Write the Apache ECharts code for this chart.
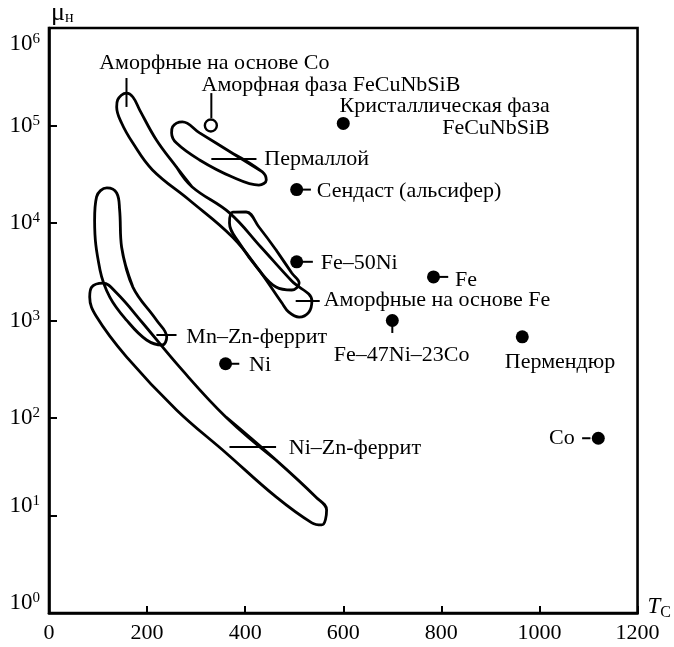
<!DOCTYPE html>
<html>
<head>
<meta charset="utf-8">
<script src="https://cdn.jsdelivr.net/npm/echarts@6/dist/echarts.min.js"></script>
<style>html,body{margin:0;padding:0;background:#fff;}#c{width:674px;height:647px;}</style>
</head>
<body>
<div id="c"></div>
<script>
// ---- Data (T_C in °C, initial permeability μ_н) ----
const xTicks = [0, 200, 400, 600, 800, 1000, 1200];
const yExponents = [0, 1, 2, 3, 4, 5, 6];

// closed outlines of material regions: [T_C, μ]
const regionAmorphCo = [[260,37500],[292,23400],[368,12700],[432,5670],[495,2540],[536,1590],[530,1220],[510,1085],[489,1220],[475,1510],[428,3300],[374,7180],[286,17200],[211,35000],[171,66000],[148,106000],[138,155000],[140,183000],[158,215000],[171,196000],[185,144000],[219,71000],[260,37500]];
const regionAmorphFe = [[463,5290],[495,3070],[510,2425],[495,2055],[463,2206],[428,3300],[388,6240],[368,10000],[375,12900],[402,12970],[428,9100],[463,5290]];
const regionPermalloy = [[374,52000],[435,33400],[443,27600],[428,24500],[374,29600],[307,44300],[260,66000],[250,84000],[252,97000],[272,109000],[307,84000],[374,52000]];
const regionMnZn = [[148,5670],[171,2200],[219,1010],[240,677],[231,561],[199,631],[158,1010],[124,1740],[104,3300],[93,10700],[97,18500],[118,22900],[138,20300],[144,13600],[148,5670]];
const regionNiZn = [[361,102],[463,37],[544,15.5],[566,11.4],[556,8],[536,8.4],[463,15.5],[361,43.8],[260,121],[158,423],[97,1090],[83,1740],[87,2200],[110,2420],[138,1910],[191,943],[266,334],[361,102]];

// filled points: names, T_C, μ
const pointNames = ['Кристаллическая фаза FeCuNbSiB','Сендаст','Fe–50Ni','Fe','Fe–47Ni–23Co','Пермендюр','Ni','Co'];
const pointT  = [600, 505, 505, 784, 700, 965, 360, 1120];
const pointMu = [105000, 22000, 4000, 2800, 1000, 680, 360, 62];
// open point
const openT = [330];
const openMu = [100000];

// annotation texts and their anchors in data space
const annTexts = ['Аморфные на основе Co','Аморфная фаза FeCuNbSiB','Кристаллическая фаза','FeCuNbSiB','Пермаллой','Сендаст (альсифер)','Fe–50Ni','Fe','Аморфные на основе Fe','Fe–47Ni–23Co','Пермендюр','Mn–Zn-феррит','Ni','Ni–Zn-феррит','Co'];
const annT  = [337, 311, 1021, 1021, 439, 546, 554, 828, 560, 719, 1042, 280, 408, 489, 1072];
const annMu = [438000, 260000, 158000, 94000, 45300, 21300, 3890, 2600, 1620, 443, 375, 677, 350, 49, 62];
const annAnchor = ['c','l','r','r','l','l','l','l','l','c','c','l','l','l','r'];

// leader lines [[T1,μ1],[T2,μ2]]
const leaders = [
  [[158,307000],[158,155000]],
  [[331,215000],[331,119000]],
  [[331,45300],[423,45300]],
  [[505,22000],[534,22000]],
  [[505,4000],[538,4000]],
  [[784,2800],[814,2800]],
  [[503,1585],[552,1585]],
  [[700,1000],[700,745]],
  [[219,710],[260,710]],
  [[360,360],[388,360]],
  [[368,50.4],[463,50.4]],
  [[1087,62],[1104,62]]
];

// ---- Chart ----
const FONT = "'Liberation Serif','Times New Roman',serif";
const INK = '#000';
const chart = echarts.init(document.getElementById('c'), null, {renderer:'canvas'});

const series = [];
const regions = [regionAmorphCo, regionAmorphFe, regionPermalloy, regionMnZn, regionNiZn];
regions.forEach(r => series.push({
  // first segment repeated at the end so the closing join is smooth
  type:'line', data:r.concat([r[1]]), smooth:0.4, symbol:'none', silent:true,
  lineStyle:{color:INK, width:2.8, opacity:1}, z:2
}));
leaders.forEach(seg => series.push({
  type:'line', data:seg, symbol:'none', silent:true,
  lineStyle:{color:INK, width:2, opacity:1}, z:3
}));
series.push({
  type:'scatter', symbol:'circle', symbolSize:13, z:5,
  itemStyle:{color:INK, opacity:1},
  data: pointT.map((t,i)=>({name:pointNames[i], value:[t, pointMu[i]]}))
});
series.push({
  type:'scatter', symbol:'circle', symbolSize:12, z:5,
  itemStyle:{color:'#fff', borderColor:INK, borderWidth:2.4, opacity:1},
  data: openT.map((t,i)=>[t, openMu[i]])
});
series.push({
  type:'scatter', symbolSize:0, z:6, silent:true,
  itemStyle:{opacity:1},
  data: annTexts.map((s,i)=>{
    const a = annAnchor[i];
    return {
      name:s, value:[annT[i], annMu[i]],
      label:{
        show:true, formatter:s, distance:0,
        position: a==='l' ? 'right' : (a==='r' ? 'left' : 'inside'),
        fontFamily:FONT, fontSize:22, color:INK, opacity:1
      }
    };
  })
});

chart.setOption({
  animation:false,
  backgroundColor:'#fff',
  grid:{left:49, right:33, top:28, bottom:34, show:true, borderColor:INK, borderWidth:2.6, backgroundColor:'transparent'},
  xAxis:{
    type:'value', min:0, max:1200, interval:200,
    name:'{t|T}{c|C}', nameLocation:'end', nameGap:10,
    nameTextStyle:{align:'left', verticalAlign:'bottom', padding:[0,0,-8,0],
      rich:{t:{fontFamily:FONT, fontStyle:'italic', fontSize:23, color:INK, verticalAlign:'top'},
            c:{fontFamily:FONT, fontSize:16, color:INK, verticalAlign:'bottom', padding:[10,0,0,0]}}},
    axisLine:{show:true, lineStyle:{color:INK, width:2.6}},
    axisTick:{show:true, inside:true, length:7, lineStyle:{color:INK, width:2}},
    splitLine:{show:false},
    axisLabel:{fontFamily:FONT, fontSize:22, color:INK, margin:9,
      formatter:v=> String(v)}
  },
  yAxis:{
    type:'log', logBase:10, min:1, max:1e6,
    name:'{m|μ}{n|н}', nameLocation:'end', nameGap:2,
    nameTextStyle:{align:'left', verticalAlign:'bottom', padding:[0,0,0,2],
      rich:{m:{fontFamily:FONT, fontSize:26, color:INK},
            n:{fontFamily:FONT, fontSize:16, color:INK, verticalAlign:'bottom', padding:[8,0,0,0]}}},
    axisLine:{show:true, lineStyle:{color:INK, width:2.6}},
    axisTick:{show:true, inside:true, length:8, lineStyle:{color:INK, width:2}},
    splitLine:{show:false},
    axisLabel:{fontFamily:FONT, fontSize:23, color:INK, margin:9,
      formatter:v=>{
        const e = Math.round(Math.log10(v));
        if (e===6) return '{sp32| }\n{b|10}{s|'+e+'}';
        if (e===0 || e===1) return '{b|10}{s|'+e+'}\n{sp20| }';
        return '{b|10}{s|'+e+'}';
      },
      rich:{
        b:{fontFamily:FONT, fontSize:23, color:INK, lineHeight:24},
        s:{fontFamily:FONT, fontSize:15, color:INK, verticalAlign:'top', lineHeight:24, padding:[0,0,6,0]},
        sp32:{fontSize:10, lineHeight:32},
        sp20:{fontSize:10, lineHeight:20}
      }
    }
  },
  series: series
});
</script>
</body>
</html>
